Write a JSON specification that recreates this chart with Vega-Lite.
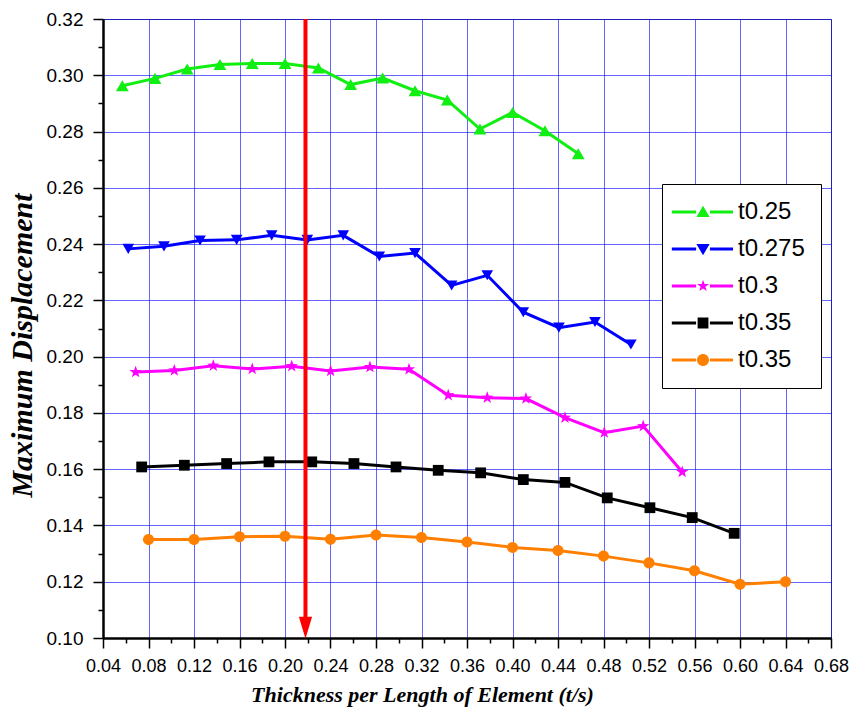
{
  "$schema": "https://vega.github.io/schema/vega-lite/v6.json",
  "width": 728,
  "height": 619,
  "autosize": {"type": "none"},
  "padding": {"left": 103, "top": 19, "right": 21, "bottom": 79},
  "background": "white",
  "config": {
    "view": {"stroke": "#555555", "strokeWidth": 1},
    "axis": {
      "labelFont": "Liberation Sans",
      "labelColor": "#000000",
      "titleFont": "Liberation Serif",
      "titleFontWeight": "bold",
      "titleFontStyle": "italic",
      "titleColor": "#000000",
      "domainColor": "#000000",
      "tickColor": "#000000",
      "gridColor": "#0000ff",
      "gridOpacity": 0.6,
      "gridWidth": 1
    },
    "legend": {
      "orient": "none",
      "legendX": 559,
      "legendY": 165,
      "padding": 16,
      "rowPadding": 13,
      "strokeColor": "#000000",
      "fillColor": "#ffffff",
      "labelFont": "Liberation Sans",
      "labelFontSize": 24,
      "labelColor": "#000000",
      "symbolOffset": 0,
      "labelOffset": 36,
      "symbolSize": 144,
      "symbolStrokeWidth": 0
    }
  },
  "datasets": {
    "series": [
      {"series": "s1", "m": "m1", "x": 0.057, "y": 0.2963},
      {"series": "s1", "m": "m1", "x": 0.0857, "y": 0.2989},
      {"series": "s1", "m": "m1", "x": 0.114, "y": 0.3022},
      {"series": "s1", "m": "m1", "x": 0.1428, "y": 0.3038},
      {"series": "s1", "m": "m1", "x": 0.1712, "y": 0.3042},
      {"series": "s1", "m": "m1", "x": 0.2, "y": 0.3042},
      {"series": "s1", "m": "m1", "x": 0.2293, "y": 0.3026},
      {"series": "s1", "m": "m1", "x": 0.2577, "y": 0.2967},
      {"series": "s1", "m": "m1", "x": 0.2859, "y": 0.299},
      {"series": "s1", "m": "m1", "x": 0.3143, "y": 0.2945},
      {"series": "s1", "m": "m1", "x": 0.3427, "y": 0.2912},
      {"series": "s1", "m": "m1", "x": 0.3714, "y": 0.2809},
      {"series": "s1", "m": "m1", "x": 0.4001, "y": 0.2868},
      {"series": "s1", "m": "m1", "x": 0.4285, "y": 0.2803},
      {"series": "s1", "m": "m1", "x": 0.4578, "y": 0.2721},
      {"series": "s2", "m": "m2", "x": 0.0622, "y": 0.2383},
      {"series": "s2", "m": "m2", "x": 0.0936, "y": 0.2392},
      {"series": "s2", "m": "m2", "x": 0.1253, "y": 0.2413},
      {"series": "s2", "m": "m2", "x": 0.1575, "y": 0.2415},
      {"series": "s2", "m": "m2", "x": 0.1883, "y": 0.2431},
      {"series": "s2", "m": "m2", "x": 0.2196, "y": 0.2415},
      {"series": "s2", "m": "m2", "x": 0.2512, "y": 0.2431},
      {"series": "s2", "m": "m2", "x": 0.2829, "y": 0.2356},
      {"series": "s2", "m": "m2", "x": 0.3143, "y": 0.2368},
      {"series": "s2", "m": "m2", "x": 0.3465, "y": 0.2253},
      {"series": "s2", "m": "m2", "x": 0.3778, "y": 0.2289},
      {"series": "s2", "m": "m2", "x": 0.4095, "y": 0.2158},
      {"series": "s2", "m": "m2", "x": 0.4408, "y": 0.2103},
      {"series": "s2", "m": "m2", "x": 0.4725, "y": 0.2123},
      {"series": "s2", "m": "m2", "x": 0.5041, "y": 0.2043},
      {"series": "s3", "m": "m3", "x": 0.0687, "y": 0.1945},
      {"series": "s3", "m": "m3", "x": 0.1027, "y": 0.1951},
      {"series": "s3", "m": "m3", "x": 0.137, "y": 0.1968},
      {"series": "s3", "m": "m3", "x": 0.1712, "y": 0.1956},
      {"series": "s3", "m": "m3", "x": 0.2059, "y": 0.1966},
      {"series": "s3", "m": "m3", "x": 0.2401, "y": 0.1949},
      {"series": "s3", "m": "m3", "x": 0.2747, "y": 0.1963},
      {"series": "s3", "m": "m3", "x": 0.309, "y": 0.1955},
      {"series": "s3", "m": "m3", "x": 0.3435, "y": 0.1863},
      {"series": "s3", "m": "m3", "x": 0.3778, "y": 0.1854},
      {"series": "s3", "m": "m3", "x": 0.4118, "y": 0.1851},
      {"series": "s3", "m": "m3", "x": 0.4461, "y": 0.1783},
      {"series": "s3", "m": "m3", "x": 0.4807, "y": 0.173},
      {"series": "s3", "m": "m3", "x": 0.5149, "y": 0.1753},
      {"series": "s3", "m": "m3", "x": 0.5492, "y": 0.159},
      {"series": "s4", "m": "m4", "x": 0.074, "y": 0.1608},
      {"series": "s4", "m": "m4", "x": 0.1115, "y": 0.1614},
      {"series": "s4", "m": "m4", "x": 0.1487, "y": 0.162},
      {"series": "s4", "m": "m4", "x": 0.1859, "y": 0.1626},
      {"series": "s4", "m": "m4", "x": 0.2235, "y": 0.1626},
      {"series": "s4", "m": "m4", "x": 0.2606, "y": 0.162},
      {"series": "s4", "m": "m4", "x": 0.2976, "y": 0.1608},
      {"series": "s4", "m": "m4", "x": 0.3347, "y": 0.1596},
      {"series": "s4", "m": "m4", "x": 0.372, "y": 0.1587},
      {"series": "s4", "m": "m4", "x": 0.4095, "y": 0.1563},
      {"series": "s4", "m": "m4", "x": 0.4461, "y": 0.1553},
      {"series": "s4", "m": "m4", "x": 0.4833, "y": 0.1498},
      {"series": "s4", "m": "m4", "x": 0.5208, "y": 0.1463},
      {"series": "s4", "m": "m4", "x": 0.558, "y": 0.1428},
      {"series": "s4", "m": "m4", "x": 0.5949, "y": 0.1372},
      {"series": "s5", "m": "m5", "x": 0.08, "y": 0.135},
      {"series": "s5", "m": "m5", "x": 0.12, "y": 0.135},
      {"series": "s5", "m": "m5", "x": 0.16, "y": 0.136},
      {"series": "s5", "m": "m5", "x": 0.2, "y": 0.1362},
      {"series": "s5", "m": "m5", "x": 0.24, "y": 0.1351},
      {"series": "s5", "m": "m5", "x": 0.28, "y": 0.1366},
      {"series": "s5", "m": "m5", "x": 0.32, "y": 0.1357},
      {"series": "s5", "m": "m5", "x": 0.36, "y": 0.1341},
      {"series": "s5", "m": "m5", "x": 0.4, "y": 0.1322},
      {"series": "s5", "m": "m5", "x": 0.44, "y": 0.1311},
      {"series": "s5", "m": "m5", "x": 0.48, "y": 0.1291},
      {"series": "s5", "m": "m5", "x": 0.52, "y": 0.1267},
      {"series": "s5", "m": "m5", "x": 0.56, "y": 0.1239},
      {"series": "s5", "m": "m5", "x": 0.6, "y": 0.1191},
      {"series": "s5", "m": "m5", "x": 0.64, "y": 0.12}
    ],
    "arrow": [{"x": 0.218, "y": 0.32, "y2": 0.105}],
    "arrowhead": [{"x": 0.218, "y": 0.1036}]
  },
  "resolve": {"axis": {"x": "independent", "y": "independent"}},
  "layer": [
    {
      "data": {"name": "series"},
      "mark": {"type": "line", "strokeWidth": 3},
      "encoding": {
        "x": {
          "field": "x", "type": "quantitative",
          "scale": {"domain": [0.04, 0.68], "nice": false, "zero": false},
          "axis": {
            "orient": "bottom",
            "values": [0.04, 0.08, 0.12, 0.16, 0.2, 0.24, 0.28, 0.32, 0.36, 0.4, 0.44, 0.48, 0.52, 0.56, 0.6, 0.64, 0.68],
            "format": ".2f",
            "grid": true,
            "domainWidth": 2.5,
            "tickSize": 10,
            "tickWidth": 1.5,
            "labelFontSize": 18,
            "labelPadding": 9,
            "labelFlush": false,
            "labelOverlap": false,
            "title": "Thickness per Length of Element (t/s)",
            "titleFontSize": 22,
            "titleX": 319,
            "titleY": 46,
            "titleAlign": "center",
            "titleBaseline": "top"
          }
        },
        "y": {
          "field": "y", "type": "quantitative",
          "scale": {"domain": [0.1, 0.32], "nice": false, "zero": false},
          "axis": {
            "orient": "left",
            "values": [0.1, 0.12, 0.14, 0.16, 0.18, 0.2, 0.22, 0.24, 0.26, 0.28, 0.3, 0.32],
            "format": ".2f",
            "grid": true,
            "domainWidth": 2.5,
            "tickSize": 10,
            "tickWidth": 1.5,
            "labelFontSize": 19,
            "labelPadding": 10,
            "labelFlush": false,
            "labelOverlap": false,
            "title": "Maximum Displacement",
            "titleFontSize": 30,
            "titleX": -66,
            "titleY": 326,
            "titleAngle": 270,
            "titleAlign": "center",
            "titleBaseline": "bottom"
          }
        },
        "color": {
          "field": "series", "type": "nominal",
          "scale": {"domain": ["s1", "s2", "s3", "s4", "s5"], "range": ["#11ee11", "#0000ff", "#ff00ff", "#000000", "#ff8000"]},
          "legend": {
            "title": null,
            "labelExpr": "datum.value == 's1' ? 't0.25' : datum.value == 's2' ? 't0.275' : datum.value == 's3' ? 't0.3' : 't0.35'",
            "encode": {
              "symbols": {
                "update": {
                  "shape": {"signal": "datum.value == 's1' ? 'M-3.03,-0.25L1.02,-0.25L1.02,0.25L-3.03,0.25Z M3.32,-0.25L7.17,-0.25L7.17,0.25L3.32,0.25Z M2.17,-1.05L3.27,0.85L1.07,0.85Z' : datum.value == 's2' ? 'M-3.03,-0.25L1.02,-0.25L1.02,0.25L-3.03,0.25Z M3.32,-0.25L7.17,-0.25L7.17,0.25L3.32,0.25Z M2.17,1.05L3.27,-0.85L1.07,-0.85Z' : datum.value == 's3' ? 'M-3.03,-0.25L1.02,-0.25L1.02,0.25L-3.03,0.25Z M3.32,-0.25L7.17,-0.25L7.17,0.25L3.32,0.25Z M2.17,-1.05L2.417,-0.34L3.169,-0.324L2.569,0.13L2.787,0.85L2.17,0.42L1.553,0.85L1.771,0.13L1.171,-0.324L1.923,-0.34Z' : datum.value == 's4' ? 'M-3.03,-0.25L1.02,-0.25L1.02,0.25L-3.03,0.25Z M3.32,-0.25L7.17,-0.25L7.17,0.25L3.32,0.25Z M1.27,-0.9L3.07,-0.9L3.07,0.9L1.27,0.9Z' : 'M-3.03,-0.25L1.02,-0.25L1.02,0.25L-3.03,0.25Z M3.32,-0.25L7.17,-0.25L7.17,0.25L3.32,0.25Z M1.17,0A1,1 0 1,0 3.17,0A1,1 0 1,0 1.17,0Z'"},
                  "size": {"value": 144},
                  "fill": {"scale": "color", "field": "value"},
                  "stroke": {"value": "transparent"},
                  "strokeWidth": {"value": 0},
                  "opacity": {"value": 1}
                }
              }
            }
          }
        },
        "detail": {"field": "series"}
      }
    },
    {
      "data": {"name": "series"},
      "mark": {"type": "point", "filled": true, "opacity": 1, "size": 144},
      "encoding": {
        "x": {
          "field": "x", "type": "quantitative",
          "axis": {
            "orient": "bottom",
            "values": [0.06, 0.1, 0.14, 0.18, 0.22, 0.26, 0.3, 0.34, 0.38, 0.42, 0.46, 0.5, 0.54, 0.58, 0.62, 0.66],
            "labels": false, "grid": false, "domain": false, "tickSize": 5, "tickWidth": 1.5, "title": null
          }
        },
        "y": {
          "field": "y", "type": "quantitative",
          "axis": {
            "orient": "left",
            "values": [0.11, 0.13, 0.15, 0.17, 0.19, 0.21, 0.23, 0.25, 0.27, 0.29, 0.31],
            "labels": false, "grid": false, "domain": false, "tickSize": 5, "tickWidth": 1.5, "title": null
          }
        },
        "color": {
          "field": "series", "type": "nominal",
          "legend": {
            "title": null,
            "labelExpr": "datum.value == 's1' ? 't0.25' : datum.value == 's2' ? 't0.275' : datum.value == 's3' ? 't0.3' : 't0.35'",
            "encode": {
              "symbols": {
                "update": {
                  "shape": {"signal": "datum.value == 's1' ? 'M-3.03,-0.25L1.02,-0.25L1.02,0.25L-3.03,0.25Z M3.32,-0.25L7.17,-0.25L7.17,0.25L3.32,0.25Z M2.17,-1.05L3.27,0.85L1.07,0.85Z' : datum.value == 's2' ? 'M-3.03,-0.25L1.02,-0.25L1.02,0.25L-3.03,0.25Z M3.32,-0.25L7.17,-0.25L7.17,0.25L3.32,0.25Z M2.17,1.05L3.27,-0.85L1.07,-0.85Z' : datum.value == 's3' ? 'M-3.03,-0.25L1.02,-0.25L1.02,0.25L-3.03,0.25Z M3.32,-0.25L7.17,-0.25L7.17,0.25L3.32,0.25Z M2.17,-1.05L2.417,-0.34L3.169,-0.324L2.569,0.13L2.787,0.85L2.17,0.42L1.553,0.85L1.771,0.13L1.171,-0.324L1.923,-0.34Z' : datum.value == 's4' ? 'M-3.03,-0.25L1.02,-0.25L1.02,0.25L-3.03,0.25Z M3.32,-0.25L7.17,-0.25L7.17,0.25L3.32,0.25Z M1.27,-0.9L3.07,-0.9L3.07,0.9L1.27,0.9Z' : 'M-3.03,-0.25L1.02,-0.25L1.02,0.25L-3.03,0.25Z M3.32,-0.25L7.17,-0.25L7.17,0.25L3.32,0.25Z M1.17,0A1,1 0 1,0 3.17,0A1,1 0 1,0 1.17,0Z'"},
                  "size": {"value": 144},
                  "fill": {"scale": "color", "field": "value"},
                  "stroke": {"value": "transparent"},
                  "strokeWidth": {"value": 0},
                  "opacity": {"value": 1}
                }
              }
            }
          }
        },
        "shape": {
          "field": "m", "type": "nominal",
          "scale": {"domain": ["m1", "m2", "m3", "m4", "m5"], "range": ["M0,-0.92L1.07,0.92L-1.07,0.92Z", "M0,0.84L0.97,-0.84L-0.97,-0.84Z", "M0,-1.08L0.254,-0.35L1.027,-0.334L0.41,0.134L0.635,0.874L0,0.432L-0.635,0.874L-0.41,0.134L-1.027,-0.334L-0.254,-0.35Z", "M-0.9,-0.9L0.9,-0.9L0.9,0.9L-0.9,0.9Z", "M-0.92,0A0.92,0.92 0 1,0 0.92,0A0.92,0.92 0 1,0 -0.92,0Z"]},
          "legend": null
        }
      }
    },
    {
      "data": {"name": "arrow"},
      "mark": {"type": "rule", "color": "#ff0000", "strokeWidth": 4},
      "encoding": {
        "x": {"field": "x", "type": "quantitative", "axis": null},
        "y": {"field": "y", "type": "quantitative", "axis": null},
        "y2": {"field": "y2"}
      }
    },
    {
      "data": {"name": "arrowhead"},
      "mark": {"type": "point", "filled": true, "opacity": 1, "color": "#ff0000", "size": 484, "shape": "M-0.6,-1L0.6,-1L0,1Z"},
      "encoding": {
        "x": {"field": "x", "type": "quantitative", "axis": null},
        "y": {"field": "y", "type": "quantitative", "axis": null}
      }
    }
  ]
}
